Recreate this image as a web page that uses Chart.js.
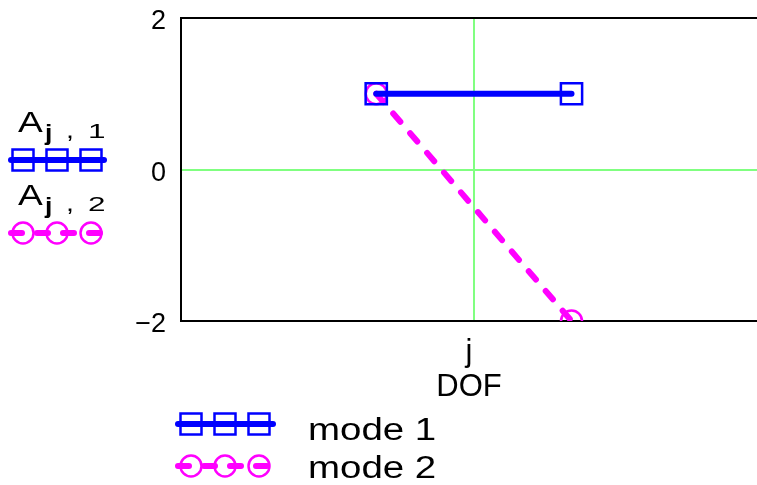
<!DOCTYPE html>
<html>
<head>
<meta charset="utf-8">
<script src="https://cdn.jsdelivr.net/npm/chart.js@4"></script>
<style>
  html, body { margin: 0; padding: 0; background: #fff; overflow: hidden; }
  #wrap { width: 757px; height: 485px; }
  #modeChart { display: block; }
</style>
</head>
<body>
<div id="wrap"><canvas id="modeChart" width="757" height="485"></canvas></div>
<script>
// data
const dof = [1, 2];
const mode1 = [1, 1];
const mode2 = [1, -2];
const seriesNames = ["mode 1", "mode 2"];
const yTicks = [-2, 0, 2];
const xGrid = [1.5];
const xTitle = ["j", "DOF"];

const FONT = '"Liberation Sans", Arial, sans-serif';
const BLUE = "#0000ff";
const MAGENTA = "#ff00ff";
const GRID_GREEN = "#80ff80";

function toPoints(xs, ys) {
  return xs.map((x, i) => ({ x: x, y: ys[i] }));
}

// mathcad text comes out wide, so stretch it sideways
function wideText(ctx, text, x, y, font, sx) {
  ctx.save();
  ctx.font = font;
  ctx.translate(x, y);
  ctx.scale(sx, 1);
  ctx.fillText(text, 0, 0);
  ctx.restore();
}

// draws a sample line with three markers, like the mathcad legend
function drawSample(ctx, ds, x0, x1, y, marks) {
  ctx.save();
  ctx.strokeStyle = ds.borderColor;
  ctx.lineWidth = ds.borderWidth;
  ctx.lineCap = "round";
  ctx.setLineDash(ds.borderDash || []);
  ctx.beginPath();
  ctx.moveTo(x0, y);
  ctx.lineTo(x1, y);
  ctx.stroke();
  ctx.setLineDash([]);
  ctx.lineWidth = ds.pointBorderWidth;
  marks.forEach(mx => {
    ctx.beginPath();
    if (ds.pointStyle === "rect") {
      ctx.rect(mx - 10.5, y - 10.5, 21, 21);
    } else {
      ctx.arc(mx, y, 10.5, 0, Math.PI * 2);
    }
    ctx.stroke();
  });
  ctx.restore();
}

const legendPlugin = {
  id: "mcadLegend",
  afterDraw(chart) {
    const ctx = chart.ctx;
    const sets = chart.data.datasets;
    ctx.save();
    ctx.fillStyle = "#000";
    ctx.textAlign = "left";
    ctx.textBaseline = "alphabetic";

    // left legend: A j,1 / A j,2
    const leftRows = [
      { base: 132, sample: 160, idx: "1" },
      { base: 205, sample: 233, idx: "2" }
    ];
    leftRows.forEach((row, i) => {
      wideText(ctx, "A", 18, row.base, "29px " + FONT, 1.28);
      wideText(ctx, "j", 45, row.base + 8, "bold 22px " + FONT, 1.2);
      wideText(ctx, ",", 66, row.base + 6, "22px " + FONT, 1.3);
      wideText(ctx, row.idx, 88, row.base + 6, "21px " + FONT, 1.5);
      drawSample(ctx, sets[i], 11, 104, row.sample, [23, 57, 91]);
    });

    // bottom legend
    const bottomRows = [
      { y: 424, base: 440 },
      { y: 466, base: 478 }
    ];
    bottomRows.forEach((row, i) => {
      drawSample(ctx, sets[i], 178, 273, row.y, [191, 225, 259]);
      ctx.fillStyle = "#000";
      wideText(ctx, seriesNames[i], 308, row.base, "31px " + FONT, 1.24);
    });
    ctx.restore();
  }
};

const ctx = document.getElementById("modeChart").getContext("2d");

new Chart(ctx, {
  type: "line",
  data: {
    datasets: [
      {
        label: seriesNames[0],
        data: toPoints(dof, mode1),
        borderColor: BLUE,
        borderWidth: 6,
        borderCapStyle: "round",
        pointStyle: "rect",
        pointRadius: 15,
        pointBorderWidth: 2.5,
        pointBorderColor: BLUE,
        pointBackgroundColor: "rgba(0,0,0,0)",
        fill: false,
        order: 0
      },
      {
        label: seriesNames[1],
        data: toPoints(dof, mode2),
        borderColor: MAGENTA,
        borderWidth: 6,
        borderDash: [11, 15],
        borderCapStyle: "round",
        pointStyle: "circle",
        pointRadius: 10.5,
        pointBorderWidth: 2.5,
        pointBorderColor: MAGENTA,
        pointBackgroundColor: "rgba(0,0,0,0)",
        fill: false,
        order: 1
      }
    ]
  },
  options: {
    responsive: false,
    animation: false,
    devicePixelRatio: 1,
    layout: { autoPadding: false, padding: { top: 18, bottom: 80, left: 0, right: 0 } },
    plugins: {
      legend: { display: false },
      tooltip: { enabled: false }
    },
    scales: {
      x: {
        type: "linear",
        position: "bottom",
        min: 0,
        max: 2.95,
        afterBuildTicks: scale => {
          scale.ticks = xGrid.map(v => ({ value: v }));
        },
        ticks: { display: false },
        grid: { color: GRID_GREEN, lineWidth: 2, drawTicks: false },
        border: { color: "#000", width: 2 },
        title: {
          display: true,
          text: xTitle,
          color: "#000",
          font: { family: FONT, size: 31, lineHeight: 35 / 31 },
          padding: { top: 14, bottom: 0 }
        }
      },
      xTop: {
        type: "linear",
        position: "top",
        display: true,
        min: 0,
        max: 1,
        ticks: { display: false },
        grid: { display: false, drawTicks: false },
        border: { color: "#000", width: 2 }
      },
      y: {
        min: yTicks[0],
        max: yTicks[yTicks.length - 1],
        afterBuildTicks: scale => {
          scale.ticks = yTicks.map(v => ({ value: v }));
        },
        afterFit: scale => {
          scale.width = 181;
          scale.paddingTop = 0;
          scale.paddingBottom = 0;
        },
        ticks: {
          padding: 15,
          labelOffset: 4,
          color: "#000",
          font: { family: FONT, size: 27 },
          callback: v => String(v).replace("-", "\u2212")
        },
        grid: {
          color: c => (c.tick && c.tick.value === 0 ? GRID_GREEN : "rgba(0,0,0,0)"),
          lineWidth: 2,
          drawTicks: false
        },
        border: { color: "#000", width: 2 }
      }
    }
  },
  plugins: [legendPlugin]
});
</script>
</body>
</html>
